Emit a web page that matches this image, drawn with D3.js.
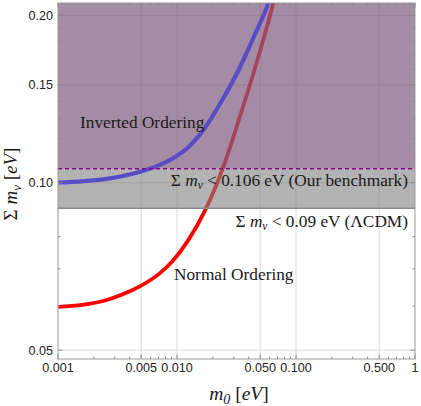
<!DOCTYPE html>
<html><head><meta charset="utf-8">
<script src="https://cdn.jsdelivr.net/npm/d3@7"></script>
<style>body{margin:0;background:#fff}</style></head>
<body><svg id="c" width="421" height="406"></svg>
<script>
// ---- data ----
const xDomain = [0.001, 1];
const yDomain = [0.0482, 0.2105];
const xMajorTicks = [0.001, 0.005, 0.01, 0.05, 0.1, 0.5, 1];
const xTickLabels = ["0.001", "0.005", "0.010", "0.050", "0.100", "0.500", "1"];
const xMinorTicks = [0.002,0.003,0.004,0.006,0.007,0.008,0.009,0.02,0.03,0.04,0.06,0.07,0.08,0.09,0.2,0.3,0.4,0.6,0.7,0.8,0.9];
const yMajorTicks = [0.05, 0.10, 0.15, 0.20];
const yTickLabels = ["0.05", "0.10", "0.15", "0.20"];
const yMinorTicks = [0.06,0.07,0.08,0.09,0.11,0.12,0.13,0.14,0.16,0.17,0.18,0.19];
const normalM0  = [0.001, 0.0016, 0.00248, 0.0035, 0.00505, 0.00703, 0.00903, 0.01237, 0.01719, 0.02435, 0.0335, 0.04519, 0.0641, 0.075];
const normalSum = [0.0598, 0.0603, 0.0614, 0.0630, 0.0654, 0.0685, 0.0720, 0.0787, 0.0891, 0.1064, 0.1308, 0.1607, 0.2094, 0.240];
const invertedM0  = [0.001, 0.0016, 0.00248, 0.004, 0.00653, 0.0095, 0.01237, 0.01719, 0.02374, 0.03255, 0.04519, 0.05817, 0.07];
const invertedSum = [0.1001, 0.1006, 0.1015, 0.1035, 0.1068, 0.1110, 0.1157, 0.1256, 0.1403, 0.1587, 0.1849, 0.2094, 0.236];
const benchmarkLimit = 0.106;
const lcdmLimit = 0.09;

// ---- layout ----
const L = 58, R = 415, T = 3, B = 359;
const svg = d3.select("#c");
const x = d3.scaleLog().domain(xDomain).range([L, R]);
const y = d3.scaleLog().domain(yDomain).range([B, T]);

svg.append("defs").append("clipPath").attr("id","clip")
  .append("rect").attr("x",L).attr("y",T).attr("width",R-L).attr("height",B-T);
const plot = svg.append("g").attr("clip-path","url(#clip)");

// gridlines
plot.selectAll(".gx").data(xMajorTicks.slice(1,-1)).join("line")
  .attr("x1",d=>x(d)).attr("x2",d=>x(d)).attr("y1",T).attr("y2",B)
  .attr("stroke","#dadada").attr("stroke-width",1);
plot.selectAll(".gy").data(yMajorTicks).join("line")
  .attr("x1",L).attr("x2",R).attr("y1",d=>y(d)).attr("y2",d=>y(d))
  .attr("stroke","#dadada").attr("stroke-width",1);

const line = d3.line().x(d=>x(d[0])).y(d=>y(d[1])).curve(d3.curveMonotoneX);
const normalData = normalM0.map((m,i)=>[m, normalSum[i]]);
const invertedData = invertedM0.map((m,i)=>[m, invertedSum[i]]);

// normal ordering curve (beneath the shaded bands)
plot.append("path").datum(normalData).attr("d",line)
  .attr("fill","none").attr("stroke","#ff0000").attr("stroke-width",3.8);

// grey band (excluded by ΛCDM) and purple band (benchmark)
plot.append("rect").attr("x",L).attr("width",R-L)
  .attr("y",T).attr("height",y(lcdmLimit)-T)
  .attr("fill","#808080").attr("fill-opacity",0.6);
plot.append("rect").attr("x",L).attr("width",R-L)
  .attr("y",T).attr("height",y(benchmarkLimit)-T)
  .attr("fill","#7e2a7e").attr("fill-opacity",0.28);
plot.append("line").attr("x1",L).attr("x2",R)
  .attr("y1",y(lcdmLimit)).attr("y2",y(lcdmLimit))
  .attr("stroke","#8a8a8a").attr("stroke-width",1.5);

// inverted ordering curve
plot.append("path").datum(invertedData).attr("d",line)
  .attr("fill","none").attr("stroke","#5a4cc6").attr("stroke-width",4.2);

// dashed benchmark line
plot.append("line").attr("x1",L).attr("x2",R)
  .attr("y1",y(benchmarkLimit)).attr("y2",y(benchmarkLimit))
  .attr("stroke","#8b008b").attr("stroke-width",1.6).attr("stroke-dasharray","4,3");

// frame
svg.append("rect").attr("x",L).attr("y",T).attr("width",R-L).attr("height",B-T)
  .attr("fill","none").attr("stroke","#9a9a9a").attr("stroke-width",1);

// ticks (inward, all sides)
const tk = svg.append("g").attr("stroke","#8a8a8a").attr("stroke-width",1);
function xt(data,len){
  tk.selectAll(null).data(data).join("line").attr("x1",d=>x(d)).attr("x2",d=>x(d)).attr("y1",B).attr("y2",B-len);
  tk.selectAll(null).data(data).join("line").attr("x1",d=>x(d)).attr("x2",d=>x(d)).attr("y1",T).attr("y2",T+len);
}
function yt(data,len){
  tk.selectAll(null).data(data).join("line").attr("y1",d=>y(d)).attr("y2",d=>y(d)).attr("x1",L).attr("x2",L+len);
  tk.selectAll(null).data(data).join("line").attr("y1",d=>y(d)).attr("y2",d=>y(d)).attr("x1",R).attr("x2",R-len);
}
xt(xMajorTicks,4.5); xt(xMinorTicks,2.5); yt(yMajorTicks,4.5); yt(yMinorTicks,2.5);

// tick labels
const sans = "'Liberation Sans', Arial, sans-serif";
svg.selectAll(".xl").data(xMajorTicks).join("text")
  .attr("x",d=>x(d)).attr("y",372).attr("text-anchor","middle")
  .attr("font-family",sans).attr("font-size",12.6).attr("fill","#222")
  .text((d,i)=>xTickLabels[i]);
svg.selectAll(".yl").data(yMajorTicks).join("text")
  .attr("x",53).attr("y",d=>y(d)+4.4).attr("text-anchor","end")
  .attr("font-family",sans).attr("font-size",12.6).attr("fill","#222")
  .text((d,i)=>yTickLabels[i]);

// annotations
const serif = "'Liberation Serif', 'Times New Roman', serif";
function rich(sel, parts){
  parts.forEach(p=>{
    const t = sel.append("tspan").text(p.t);
    if(p.i) t.attr("font-style","italic");
    if(p.sub) t.attr("font-size", p.sub).attr("dy", p.dy);
    if(p.up) t.attr("dy", p.up);
  });
  return sel;
}
const ann = svg.append("g").attr("font-family",serif).attr("fill","#1a1a1a").attr("font-size",17.3);
ann.append("text").attr("x",80).attr("y",128).text("Inverted Ordering");
ann.append("text").attr("x",174).attr("y",280).text("Normal Ordering");
rich(ann.append("text").attr("x",408).attr("y",186).attr("text-anchor","end"),
  [{t:"Σ "},{t:"m",i:1},{t:"ν",i:1,sub:11.5,dy:3},{t:" < 0.106 eV (Our benchmark)",up:-3}]);
rich(ann.append("text").attr("x",408).attr("y",227).attr("text-anchor","end"),
  [{t:"Σ "},{t:"m",i:1},{t:"ν",i:1,sub:11.5,dy:3},{t:" < 0.09 eV (ΛCDM)",up:-3}]);

// axis titles
const xt2 = svg.append("text").attr("x",239).attr("y",400).attr("text-anchor","middle")
  .attr("font-family",serif).attr("font-size",19.5).attr("fill","#1a1a1a");
rich(xt2,[{t:"m",i:1},{t:"0",i:1,sub:14,dy:3.5},{t:" [",up:-3.5},{t:"eV",i:1},{t:"]"}]);
const yt2 = svg.append("text").attr("transform","translate(17,184) rotate(-90)").attr("text-anchor","middle")
  .attr("font-family",serif).attr("font-size",19).attr("fill","#1a1a1a");
rich(yt2,[{t:"Σ "},{t:"m",i:1},{t:"ν",i:1,sub:13,dy:3.5},{t:" [",up:-3.5},{t:"eV",i:1},{t:"]"}]);
</script></body></html>
